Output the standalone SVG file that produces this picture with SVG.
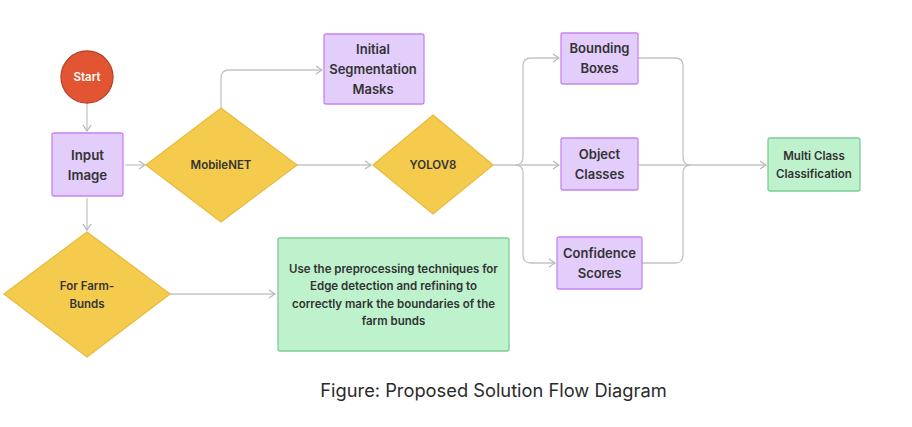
<svg xmlns="http://www.w3.org/2000/svg" width="912" height="427" viewBox="0 0 912 427">
<defs>
<marker id="arr" viewBox="0 0 8 10" refX="7" refY="5" markerWidth="8" markerHeight="10" markerUnits="userSpaceOnUse" orient="auto">
<path d="M1,1 L7,5 L1,9" fill="none" stroke="#b8b8b8" stroke-width="1.3"/>
</marker>
<style>
.c{fill:none;stroke:#c4c4c4;stroke-width:1.3}
.p{fill:#e2cdfb;stroke:#c883f2;stroke-width:1.3}
.d{fill:#f5cb4e;stroke:#e9bb3f;stroke-width:1.3}
.g{fill:#bdf2cd;stroke:#7fcb95;stroke-width:1.3}
.t{font-family:Inter,"Liberation Sans",sans-serif;font-weight:600;fill:#333333;text-anchor:middle}
</style>
</defs>
<rect width="912" height="427" fill="#ffffff"/>
<g id="connectors">
<path class="c" d="M87,103 V131" marker-end="url(#arr)"/>
<path class="c" d="M125,165 H145" marker-end="url(#arr)"/>
<path class="c" d="M87,198 V230" marker-end="url(#arr)"/>
<path class="c" d="M221,108 V78 Q221,70 229,70 H322" marker-end="url(#arr)"/>
<path class="c" d="M297,165 H371" marker-end="url(#arr)"/>
<path class="c" d="M170,294 H275" marker-end="url(#arr)"/>
<path class="c" d="M493,165 H559" marker-end="url(#arr)"/>
<path class="c" d="M515,165 Q523,165 523,157 V66 Q523,58 531,58 H559" marker-end="url(#arr)"/>
<path class="c" d="M515,165 Q523,165 523,173 V255 Q523,263 531,263 H555" marker-end="url(#arr)"/>
<path class="c" d="M638,58 H675 Q683,58 683,66 V157 Q683,165 691,165"/>
<path class="c" d="M642,263 H675 Q683,263 683,255 V173 Q683,165 691,165"/>
<path class="c" d="M638,165 H766" marker-end="url(#arr)"/>
</g>
<g id="start">
<circle cx="87" cy="77" r="26" fill="#e25532" stroke="#b8432a" stroke-width="1.3"/>
<text class="t" x="87" y="81" font-size="11.5" style="fill:#ffffff">Start</text>
</g>
<g id="input-image">
<rect class="p" x="52" y="133" width="71" height="63" rx="2"/>
<text class="t" x="87.5" y="160" font-size="13.3">Input</text>
<text class="t" x="87.5" y="179.5" font-size="13.3">Image</text>
</g>
<g id="mobilenet">
<polygon class="d" points="221,108 297,165 221,222 146,165"/>
<text class="t" x="221" y="169" font-size="11.5">MobileNET</text>
</g>
<g id="initial-segmentation">
<rect class="p" x="324" y="34" width="100" height="70" rx="2"/>
<text class="t" x="373" y="54" font-size="13">Initial</text>
<text class="t" x="373" y="74" font-size="13">Segmentation</text>
<text class="t" x="373" y="94" font-size="13">Masks</text>
</g>
<g id="yolov8">
<polygon class="d" points="433,115 493,165 433,214 373,165"/>
<text class="t" x="433" y="169" font-size="11.5">YOLOV8</text>
</g>
<g id="bounding-boxes">
<rect class="p" x="561" y="33" width="77" height="51" rx="2"/>
<text class="t" x="599.5" y="53" font-size="13">Bounding</text>
<text class="t" x="599.5" y="73" font-size="13">Boxes</text>
</g>
<g id="object-classes">
<rect class="p" x="561" y="138" width="77" height="52" rx="2"/>
<text class="t" x="599.5" y="159" font-size="13">Object</text>
<text class="t" x="599.5" y="179" font-size="13">Classes</text>
</g>
<g id="confidence-scores">
<rect class="p" x="557" y="237" width="85" height="52" rx="2"/>
<text class="t" x="599.5" y="258" font-size="13">Confidence</text>
<text class="t" x="599.5" y="278" font-size="13">Scores</text>
</g>
<g id="multi-class">
<rect class="g" x="768" y="138" width="92" height="53" rx="2"/>
<text class="t" x="814" y="160" font-size="11.5">Multi Class</text>
<text class="t" x="814" y="178" font-size="11.5">Classification</text>
</g>
<g id="farm-bunds">
<polygon class="d" points="87,232 170,294 87,357 4,294"/>
<text class="t" x="87" y="290" font-size="11.5">For Farm-</text>
<text class="t" x="87" y="307.5" font-size="11.5">Bunds</text>
</g>
<g id="preprocessing">
<rect class="g" x="278" y="238" width="231" height="113" rx="2"/>
<text class="t" x="393.5" y="273" font-size="11.5">Use the preprocessing techniques for</text>
<text class="t" x="393.5" y="290" font-size="11.5">Edge detection and refining to</text>
<text class="t" x="393.5" y="307.5" font-size="11.5">correctly mark the boundaries of the</text>
<text class="t" x="393.5" y="325" font-size="11.5">farm bunds</text>
</g>
<text x="493.5" y="397" font-family="Inter,'Liberation Sans',sans-serif" font-size="18.3" fill="#2a2a2a" text-anchor="middle">Figure: Proposed Solution Flow Diagram</text>
</svg>
